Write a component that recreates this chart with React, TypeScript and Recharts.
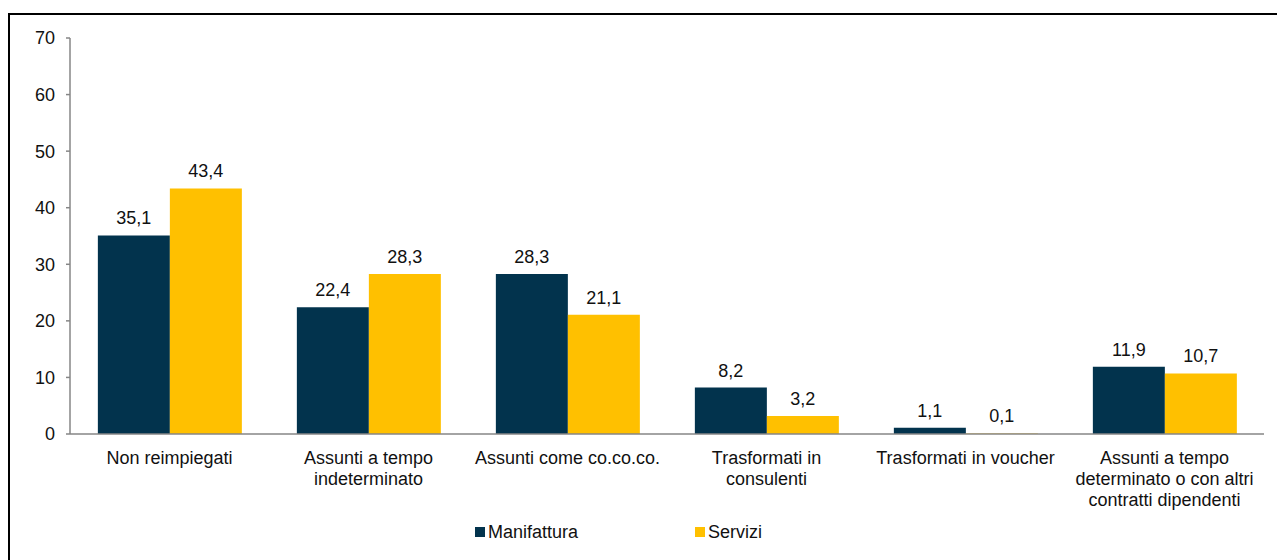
import React from 'react';
import { BarChart, Bar, XAxis, YAxis, Legend, LabelList } from 'recharts';

const categories = [
	'Non reimpiegati',
	'Assunti a tempo\nindeterminato',
	'Assunti come co.co.co.',
	'Trasformati in\nconsulenti',
	'Trasformati in voucher',
	'Assunti a tempo\ndeterminato o con altri\ncontratti dipendenti',
];
const manifattura = [35.1, 22.4, 28.3, 8.2, 1.1, 11.9];
const servizi = [43.4, 28.3, 21.1, 3.2, 0.1, 10.7];
const yTicks = [0, 10, 20, 30, 40, 50, 60, 70];
const edgeTicks = categories.map((_, i) => i).concat(categories.length);

const data = categories.map((name, i) => ({ name, manifattura: manifattura[i], servizi: servizi[i] }));

const DARK = '#02334D';
const YELLOW = '#FFC000';
const AXIS = '#868686';
const TEXT = '#111';
const FONT = '"Liberation Sans", Arial, sans-serif';

const fmt = (v: any) => String(v).replace('.', ',');

const CategoryTick = ({ x, y, payload }: any) => {
	const lines = String(payload.value).split('\n');
	return (
		<text x={x} y={y} textAnchor='middle' fill={TEXT} fontSize={18} fontFamily={FONT}>
			{lines.map((l, i) => (
				<tspan key={i} x={x} dy={i === 0 ? 22 : 21}>
					{l}
				</tspan>
			))}
		</text>
	);
};

const LegendContent = () => (
	<div style={{ height: 30, display: 'flex', alignItems: 'center', paddingLeft: 465, fontFamily: FONT, fontSize: 18, color: TEXT }}>
		<span style={{ display: 'inline-block', width: 10, height: 10, background: DARK, marginRight: 3 }} />
		<span>Manifattura</span>
		<span style={{ display: 'inline-block', width: 10, height: 10, background: YELLOW, marginRight: 3, marginLeft: 117 }} />
		<span>Servizi</span>
	</div>
);

export default function App() {
	return (
		<div style={{ paddingTop: 5 }}>
			<div style={{ border: '2px solid #000', width: 1300, height: 560, boxSizing: 'border-box' }}>
				<BarChart
					width={1275}
					height={532}
					data={data}
					margin={{ top: 23, right: 21, left: 0, bottom: 0 }}
					barCategoryGap='14%'
					barGap={0}
				>
					<XAxis
						xAxisId='edges'
						type='number'
						domain={[0, categories.length]}
						ticks={edgeTicks}
						height={0}
						axisLine={false}
						tick={false}
						tickSize={6}
						tickLine={{ stroke: AXIS, strokeWidth: 1.5 }}
					/>
					<XAxis
						dataKey='name'
						height={83}
						interval={0}
						axisLine={{ stroke: AXIS, strokeWidth: 1.5 }}
						tickLine={false}
						tick={<CategoryTick />}
					/>
					<YAxis
						width={60}
						domain={[0, 70]}
						ticks={yTicks}
						axisLine={{ stroke: AXIS, strokeWidth: 1.5 }}
						tickLine={{ stroke: AXIS, strokeWidth: 1.5 }}
						tickSize={4}
						tickMargin={11}
						tick={{ fill: TEXT, fontSize: 18, fontFamily: FONT }}
					/>
					<Legend verticalAlign='bottom' content={<LegendContent />} wrapperStyle={{ left: 0, width: 1275 }} />
					<Bar dataKey='manifattura' name='Manifattura' fill={DARK} isAnimationActive={false}>
						<LabelList dataKey='manifattura' position='top' offset={11} formatter={fmt} fill={TEXT} fontSize={18} fontFamily={FONT} />
					</Bar>
					<Bar dataKey='servizi' name='Servizi' fill={YELLOW} isAnimationActive={false}>
						<LabelList dataKey='servizi' position='top' offset={11} formatter={fmt} fill={TEXT} fontSize={18} fontFamily={FONT} />
					</Bar>
				</BarChart>
			</div>
		</div>
	);
}
